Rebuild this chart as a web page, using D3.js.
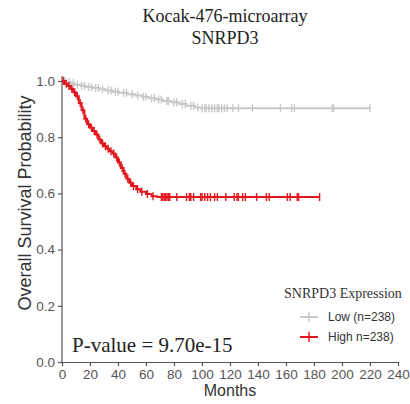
<!DOCTYPE html>
<html>
<head>
<meta charset="utf-8">
<script src="https://cdn.jsdelivr.net/npm/d3@7"></script>
<style>
  body { margin: 0; background: #fff; }
  svg { display: block; }
</style>
</head>
<body>
<svg id="chart" width="410" height="404"></svg>
<script>
"use strict";

// survival steps: [months, probability]
const lowSteps = [[0,1],[3,0.996],[6,0.992],[9,0.987],[13,0.983],[17,0.979],[22,0.975],[27,0.971],
  [31,0.966],[36,0.962],[41,0.958],[47,0.953],[52,0.948],[57,0.944],[62,0.939],[67,0.934],
  [72,0.929],[78,0.924],[84,0.918],[89,0.912],[95,0.906],[99,0.903],[220,0.903]];
const highSteps = [[0,1],[2,0.99],[4,0.982],[6,0.972],[8,0.96],[10,0.946],[12,0.922],[14,0.896],
  [16,0.866],[18,0.846],[20,0.834],[22,0.822],[24,0.81],[26,0.792],[28,0.778],[30,0.768],
  [32,0.759],[34,0.75],[36,0.742],[38,0.728],[40,0.71],[42,0.69],[44,0.67],[46,0.652],
  [48,0.638],[50,0.626],[53,0.615],[56,0.606],[60,0.598],[64,0.59],[68,0.587],[184,0.587]];

// censored patients (months)
const lowCensor = [2,5,8,11,14,16,19,21,24,26,29,33,35,38,40,44,46,50,54,58,60,64,66,69,71,75,76,
  80,82,86,88,92,94,97,100,102,103,105,107,109,111,112,114,116,118,122,126,136,156,164,166,193,194,220];
const highCensor = [1,3,5,7,9,11,13,15,17,19,21,23,25,27,29,31,33,35,37,39,41,43,45,47,49,51,54,57,
  61,65,71,72,73,74,75,76,77,82,89,91,92,94,99,100,102,104,106,109,111,117,123,125,126,129,131,
  139,146,148,161,163,168,169,184];

const xTicks = [0,20,40,60,80,100,120,140,160,180,200,220,240];
const yTicks = [0,0.2,0.4,0.6,0.8,1.0];
const groups = ["Low (n=238)", "High n=238)"];
const colors = ["#c8c8c8", "#e3161d"];

const svg = d3.select("#chart");
const x = d3.scaleLinear().domain([0, 240]).range([62, 398]);
const y = d3.scaleLinear().domain([0, 1]).range([362, 81]);

// titles
svg.append("text").attr("x", 225).attr("y", 22).attr("text-anchor", "middle")
  .style("font", "18px 'Liberation Serif', serif").attr("fill", "#222").text("Kocak-476-microarray");
svg.append("text").attr("x", 225).attr("y", 44).attr("text-anchor", "middle")
  .style("font", "18px 'Liberation Serif', serif").attr("fill", "#222").text("SNRPD3");

// axes
const xAxis = svg.append("g").attr("transform", "translate(0,362)")
  .call(d3.axisBottom(x).tickValues(xTicks).tickSize(4).tickSizeOuter(0));
const yAxis = svg.append("g").attr("transform", "translate(62,0)")
  .call(d3.axisLeft(y).tickValues(yTicks).tickFormat(d3.format(".1f")).tickSize(4).tickSizeOuter(0));
yAxis.select(".domain").attr("d", "M0," + y(0) + "V" + (y(1) - 5));
[xAxis, yAxis].forEach(a => {
  a.selectAll(".domain, line").attr("stroke", "#555").attr("stroke-width", 1.2);
  a.selectAll("text").attr("fill", "#555").style("font", "13.5px 'Liberation Sans', Arial, sans-serif");
});
xAxis.selectAll("text").attr("dy", "0.72em");

svg.append("text").attr("x", 230).attr("y", 396).attr("text-anchor", "middle")
  .style("font", "16px 'Liberation Sans', Arial, sans-serif").attr("fill", "#333").text("Months");
svg.append("text").attr("transform", "translate(31,203) rotate(-90)").attr("text-anchor", "middle")
  .style("font", "18px 'Liberation Sans', Arial, sans-serif").attr("fill", "#333")
  .text("Overall Survival Probability");

// curves
const line = d3.line().x(d => x(d[0])).y(d => y(d[1])).curve(d3.curveStepAfter);
function survAt(steps, t) {
  let s = steps[0][1];
  steps.forEach(d => { if (d[0] <= t) s = d[1]; });
  return s;
}
[[lowSteps, lowCensor], [highSteps, highCensor]].forEach((g, i) => {
  svg.append("path").datum(g[0]).attr("d", line).attr("fill", "none")
    .attr("stroke", colors[i]).attr("stroke-width", 2);
  svg.append("g").selectAll("line").data(g[1]).join("line")
    .attr("x1", d => x(d)).attr("x2", d => x(d))
    .attr("y1", d => y(survAt(g[0], d)) - 4).attr("y2", d => y(survAt(g[0], d)) + 4)
    .attr("stroke", colors[i]).attr("stroke-width", 1.4);
});

// p-value
svg.append("text").attr("x", 72).attr("y", 352)
  .style("font", "21px 'Liberation Serif', serif").attr("fill", "#222").text("P-value = 9.70e-15");

// legend
svg.append("text").attr("x", 284).attr("y", 298)
  .style("font", "14px 'Liberation Serif', serif").attr("fill", "#333").text("SNRPD3 Expression");
groups.forEach((name, i) => {
  const ly = 317 + i * 20;
  svg.append("line").attr("x1", 300).attr("x2", 318).attr("y1", ly).attr("y2", ly)
    .attr("stroke", colors[i]).attr("stroke-width", 2);
  svg.append("line").attr("x1", 309).attr("x2", 309).attr("y1", ly - 5).attr("y2", ly + 5)
    .attr("stroke", colors[i]).attr("stroke-width", 1.5);
  svg.append("text").attr("x", 328).attr("y", ly + 4)
    .style("font", "12px 'Liberation Sans', Arial, sans-serif").attr("fill", "#333").text(name);
});
</script>
</body>
</html>
